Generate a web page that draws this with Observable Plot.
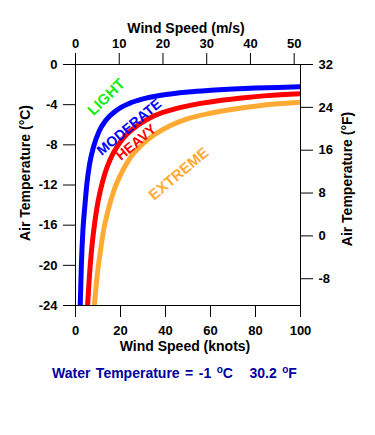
<!DOCTYPE html>
<html>
<head>
<meta charset="utf-8">
<script src="https://cdn.jsdelivr.net/npm/d3@7"></script>
<script src="https://cdn.jsdelivr.net/npm/@observablehq/plot@0.6"></script>
<style>
  body { margin: 0; background: #fff; font-family: "Liberation Sans", Arial, Helvetica, sans-serif; }
  #wrap { position: relative; width: 375px; height: 435px; }
  #caption { position: absolute; left: 52px; top: 365px; font-weight: bold; font-size: 14px; line-height: 16px; color: #0000a0; white-space: pre; word-spacing: 1.6px; }
  #caption .sup { position: relative; top: -5px; font-size: 10px; }
</style>
</head>
<body>
<div id="wrap">
  <div id="chart"></div>
  <div id="caption">Water Temperature = -1 <span class="sup">o</span>C   30.2 <span class="sup">o</span>F</div>
</div>
<script>
// ---- data ----
// Boundary between LIGHT and MODERATE icing (blue)
const moderateKnots = [2.1, 2.6, 3.3, 4.2, 5.0, 6.2, 8.0, 10.5, 13.5, 18, 24, 30, 38, 50, 60, 70, 80, 90, 100];
const moderateTemp  = [-24, -20, -16.5, -14, -12, -10, -8.2, -6.65, -5.55, -4.6, -3.87, -3.43, -3.07, -2.74, -2.57, -2.44, -2.35, -2.28, -2.22];
// Boundary between MODERATE and HEAVY icing (red)
const heavyKnots = [5.4, 6.0, 7.0, 8.0, 9.5, 11, 13, 15.5, 19, 23, 28, 35, 45, 55, 65, 75, 85, 100];
const heavyTemp  = [-23.9, -21.7, -18.8, -16.7, -14.3, -12.6, -10.9, -9.4, -8.0, -6.9, -6.0, -5.1, -4.37, -3.9, -3.55, -3.3, -3.1, -2.9];
// Boundary between HEAVY and EXTREME icing (orange)
const extremeKnots = [8.4, 9.5, 11, 12.5, 14.5, 17, 20, 24, 29, 35, 42, 50, 60, 70, 80, 90, 100];
const extremeTemp  = [-24, -21.3, -18.7, -16.5, -14.5, -12.6, -11.0, -9.4, -8.1, -7.0, -6.1, -5.4, -4.85, -4.45, -4.15, -3.92, -3.75];

// Tick labels
const knotTicks = [0, 20, 40, 60, 80, 100];
const msTicks = [0, 10, 20, 30, 40, 50];
const celsiusTicks = [0, -4, -8, -12, -16, -20, -24];
const fahrenheitTicks = [32, 24, 16, 8, 0, -8];

// Region labels
const regionNames  = ["LIGHT", "MODERATE", "HEAVY", "EXTREME"];
const regionKnots  = [13.7, 23.9, 27.0, 45.9];
const regionTemp   = [-3.25, -6.25, -7.75, -10.9];
const regionAngle  = [-44, -40, -40, -40];
const regionSize   = [15, 14, 14, 15];
const regionColors = ["#14ee14", "#0000ff", "#ff0000", "#ffaa33"];

// ---- build tables ----
const zip = (xs, ys) => xs.map((k, i) => ({k, t: ys[i]}));
const moderate = zip(moderateKnots, moderateTemp);
const heavy = zip(heavyKnots, heavyTemp);
const extreme = zip(extremeKnots, extremeTemp);
const regions = regionNames.map((name, i) => ({name, k: regionKnots[i], t: regionTemp[i], a: regionAngle[i], c: regionColors[i], s: regionSize[i]}));

const KN_PER_MS = 1 / 0.514444;     // knots per m/s
const C_PER_F = 24 / 45;            // right-hand °F axis as drawn in the reference

const font = '"Liberation Sans", Arial, Helvetica, sans-serif';

const chart = Plot.plot({
  width: 375,
  height: 435,
  marginLeft: 75,
  marginRight: 75,
  marginTop: 64,
  marginBottom: 130,
  x: {domain: [0, 100]},
  y: {domain: [-24, 0]},
  style: {fontFamily: font, fontWeight: "bold", fontSize: "13px", color: "black", background: "white", overflow: "visible"},
  marks: [
    Plot.line(moderate, {x: "k", y: "t", stroke: "#0000ff", strokeWidth: 5, curve: "monotone-x", clip: true}),
    Plot.line(heavy, {x: "k", y: "t", stroke: "#ff0000", strokeWidth: 5, curve: "monotone-x", clip: true}),
    Plot.line(extreme, {x: "k", y: "t", stroke: "#ffaa33", strokeWidth: 5, curve: "monotone-x", clip: true}),
    ...regions.map(r => Plot.text([r], {x: "k", y: "t", text: "name", rotate: r.a, fill: r.c, fontSize: r.s, fontWeight: "bold"})),
    Plot.frame({stroke: "black", strokeWidth: 1}),
    Plot.axisX({anchor: "bottom", ticks: knotTicks, tickSize: 12, tickPadding: 8, tickFormat: d => String(d), label: null, fontSize: 13}),
    Plot.axisX({anchor: "top", ticks: msTicks.map(v => v * KN_PER_MS), tickSize: 12, tickPadding: 5,
      tickFormat: d => String(Math.round(d / KN_PER_MS)), label: null, fontSize: 13}),
    Plot.axisY({anchor: "left", ticks: celsiusTicks, tickSize: 12, tickPadding: 6, tickFormat: d => String(d), label: null, fontSize: 13}),
    Plot.axisY({anchor: "right", ticks: fahrenheitTicks.map(f => (f - 32) * C_PER_F), tickSize: 12, tickPadding: 6,
      tickFormat: d => String(Math.round(d / C_PER_F + 32)), label: null, fontSize: 13}),
    Plot.text(["Wind Speed (m/s)"], {frameAnchor: "top", dy: -41, dx: -2, text: d => d, fontSize: 14, fontWeight: "bold"}),
    Plot.text(["Wind Speed (knots)"], {frameAnchor: "bottom", dy: 45, dx: -3, text: d => d, fontSize: 14, fontWeight: "bold"}),
    Plot.text(["Air Temperature (°C)"], {frameAnchor: "left", textAnchor: "middle", dx: -50, dy: -12, rotate: -90, text: d => d, fontSize: 14, fontWeight: "bold"}),
    Plot.text(["Air Temperature (°F)"], {frameAnchor: "right", textAnchor: "middle", dx: 47, dy: -6, rotate: -90, text: d => d, fontSize: 14, fontWeight: "bold"})
  ]
});
document.getElementById("chart").append(chart);
</script>
</body>
</html>
